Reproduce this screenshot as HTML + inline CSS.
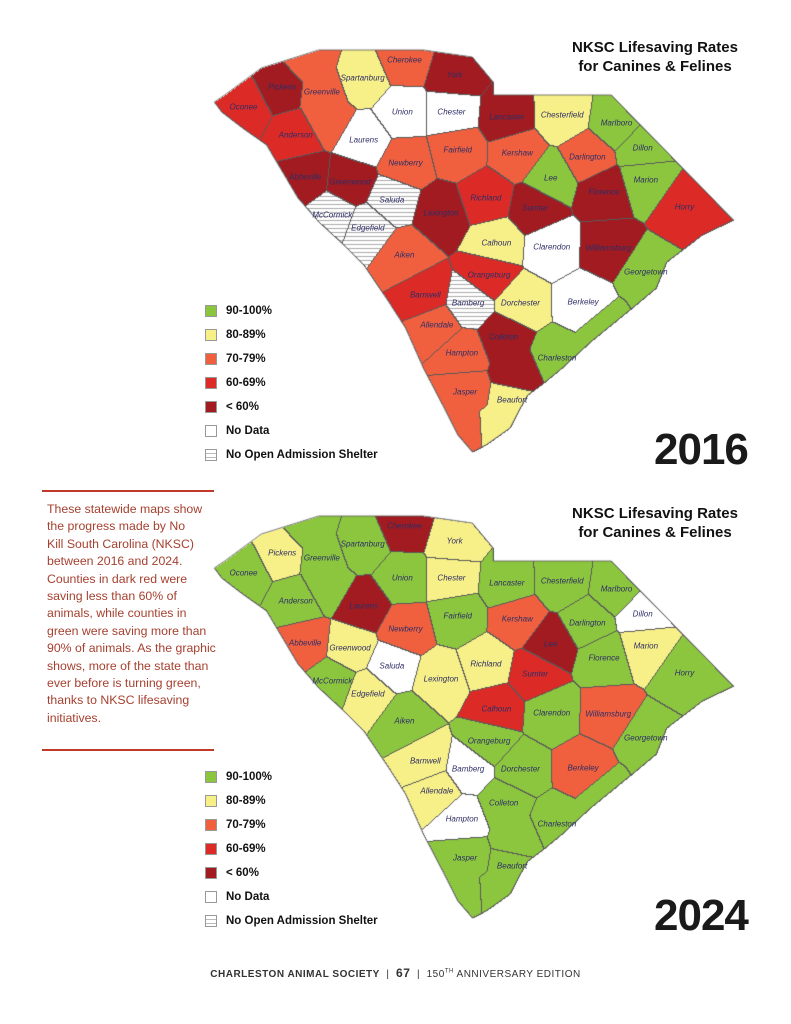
<!DOCTYPE html>
<html><head><meta charset="utf-8"><style>
body{margin:0;background:#fff;}
#wrap{position:relative;width:791px;height:1024px;overflow:hidden;font-family:"Liberation Sans",sans-serif;}
canvas{position:absolute;left:0;top:0;}
.t{position:absolute;font-weight:bold;font-size:15px;text-align:center;width:220px;left:545px;line-height:19px;color:#111;}
.yr{position:absolute;font-weight:bold;font-size:44px;left:654px;color:#1a1a1a;letter-spacing:-1px;}
.lab{position:absolute;font-size:8px;font-style:italic;color:#2e2e66;transform:translate(-50%,-50%);white-space:nowrap;}
.lg{position:absolute;left:205px;font-size:11.5px;font-weight:bold;color:#111;}
.lg span{display:inline-block;width:12px;height:12px;border:1px solid #999;vertical-align:middle;margin-right:9px;box-sizing:border-box;}
.para{position:absolute;left:47px;top:501px;width:190px;font-size:12.3px;line-height:17.4px;color:#a5402f;white-space:nowrap;}
.hr{position:absolute;left:42px;width:172px;height:2px;background:#c0392b;}
.foot{position:absolute;top:966px;width:791px;text-align:center;font-size:10px;color:#333;letter-spacing:0.5px;}
</style></head><body><div id="wrap">
<canvas id="c" width="791" height="1024"></canvas>
<div class="t" style="top:38px">NKSC Lifesaving Rates<br>for Canines &amp; Felines</div>
<div class="t" style="top:504px">NKSC Lifesaving Rates<br>for Canines &amp; Felines</div>
<div class="yr" style="top:425px">2016</div>
<div class="yr" style="top:891px">2024</div>
<div class="hr" style="top:490px"></div><div class="hr" style="top:749px"></div>
<div class="para">These statewide maps show<br>the progress made by No<br>Kill South Carolina (NKSC)<br>between 2016 and 2024.<br>Counties in dark red were<br>saving less than 60% of<br>animals, while counties in<br>green were saving more than<br>90% of animals. As the graphic<br>shows, more of the state than<br>ever before is turning green,<br>thanks to NKSC lifesaving<br>initiatives.</div>
<div class="foot"><b>CHARLESTON ANIMAL SOCIETY</b> &nbsp;|&nbsp; <b style="font-size:12px">67</b> &nbsp;|&nbsp; 150<sup style="font-size:6px">TH</sup> ANNIVERSARY EDITION</div>
<div id="legends"></div>
<div id="labels"></div>
<script>
var C={G:'#8cc63e',Y:'#f7f088',O:'#f0603f',R:'#dc2a27',D:'#a11b21',W:'#ffffff',H:'H'};
var S=[
['Oconee',243,107,'R','G'],['Pickens',280,87,'D','Y'],['Greenville',318,92,'O','G'],['',322,118,'O','G'],['',305,62,'O','G'],
['Spartanburg',357,78,'Y','G'],['Cherokee',397,60,'O','D'],['York',445,75,'D','Y'],['Union',395,112,'W','G'],
['Chester',442,112,'W','Y'],['Lancaster',495,117,'D','G'],['Chesterfield',548,115,'Y','G'],['Marlboro',600,123,'G','G'],
['Dillon',625,148,'G','W'],['Marion',628,180,'G','Y'],['Horry',665,207,'R','G'],['',700,222,'R','G'],['Laurens',358,140,'W','D'],
['Anderson',293,135,'R','G'],['Abbeville',302,177,'D','O'],['Greenwood',345,182,'D','Y'],['Newberry',398,163,'O','O'],
['Fairfield',448,150,'O','G'],['Kershaw',505,153,'O','O'],['Darlington',572,157,'O','G'],['Lee',537,178,'G','D'],
['Florence',588,192,'D','G'],['Sumter',522,208,'D','R'],['Richland',475,198,'R','Y'],['Lexington',432,213,'D','Y'],
['Saluda',385,200,'H','W'],['McCormick',328,215,'H','G'],['Edgefield',362,228,'H','Y'],['Aiken',397,255,'O','G'],
['Calhoun',485,243,'Y','R'],['Clarendon',538,247,'W','G'],['Williamsburg',592,248,'D','O'],['Georgetown',628,272,'G','G'],
['',642,295,'G','G'],['Orangeburg',478,275,'R','G'],['Barnwell',417,295,'R','Y'],['Bamberg',458,303,'H','W'],
['Dorchester',508,303,'Y','G'],['Berkeley',568,302,'W','O'],['Allendale',428,325,'O','Y'],['Colleton',492,337,'D','G'],
['',505,375,'D','G'],['Hampton',452,353,'O','W'],['Charleston',543,358,'G','G'],['',590,330,'G','G'],
['Jasper',455,392,'O','G'],['',455,430,'O','G'],['Beaufort',500,400,'Y','G'],['',485,428,'Y','G']];
var P=[[215,102],[225,95],[260,68],[315,50],[415,50],[462,57],[482,82],[482,95],[595,95],[712,220],[682,235],[648,262],[638,288],[615,308],[575,342],[548,368],[528,385],[515,395],[508,408],[498,428],[475,445],[462,452],[448,435],[432,402],[415,368],[398,328],[382,302],[358,265],[342,248],[315,222],[295,198],[282,175],[265,145],[242,128],[222,112]];
function tx(x){return 232+(x-232)*1.045;}
S.forEach(function(s){s[1]=tx(s[1]);});P.forEach(function(p){p[0]=tx(p[0]);});
var cv=document.getElementById('c'),ctx=cv.getContext('2d');
function draw(oy,k){
 var path=new Path2D();P.forEach(function(p,i){i?path.lineTo(p[0],p[1]+oy):path.moveTo(p[0],p[1]+oy);});path.closePath();
 var W=560,Hh=420,x0=205,y0=40+oy,img=ctx.getImageData(x0,y0,W,Hh),d=img.data,idx=new Int16Array(W*Hh);
 for(var y=0;y<Hh;y++)for(var x=0;x<W;x++){var gx=x0+x,gy=y0+y;
  if(!ctx.isPointInPath(path,gx,gy)){idx[y*W+x]=-1;continue;}
  var b=1e9,bi=0;for(var i=0;i<S.length;i++){var dx=S[i][1]-gx,dy=S[i][2]+oy-gy,q=dx*dx+dy*dy;if(q<b){b=q;bi=i;}}
  if(S[bi][0]===''){for(var j=bi-1;j>=0;j--)if(S[j][0]!==''){bi=j;break;}}
  idx[y*W+x]=bi;}
 for(var y=0;y<Hh;y++)for(var x=0;x<W;x++){var v=idx[y*W+x];if(v<0)continue;var o=(y*W+x)*4;
  var c=C[S[v][k]],r,g,bb;
  var edge=(x<W-1&&idx[y*W+x+1]!==v)||(y<Hh-1&&idx[(y+1)*W+x]!==v);
  if(edge){r=g=bb=90;}else if(c==='H'){if((y0+y)%4===0){r=g=bb=170;}else{r=g=bb=255;}}
  else{r=parseInt(c.substr(1,2),16);g=parseInt(c.substr(3,2),16);bb=parseInt(c.substr(5,2),16);}
  d[o]=r;d[o+1]=g;d[o+2]=bb;d[o+3]=255;}
 ctx.putImageData(img,x0,y0);
 ctx.strokeStyle='#555';ctx.lineWidth=0.8;ctx.stroke(path);
 var L=document.getElementById('labels');
 S.forEach(function(s){if(!s[0])return;var e=document.createElement('div');e.className='lab';e.style.left=s[1]+'px';e.style.top=(s[2]+oy)+'px';e.textContent=s[0];L.appendChild(e);});
}
draw(0,3);draw(466,4);
var items=[['90-100%','#8cc63e'],['80-89%','#f7f088'],['70-79%','#f0603f'],['60-69%','#dc2a27'],['< 60%','#a11b21'],['No Data','#fff'],['No Open Admission Shelter','repeating-linear-gradient(#fff 0 3px,#bbb 3px 4px)']];
var LG=document.getElementById('legends');
[305,771].forEach(function(t){items.forEach(function(it,i){var e=document.createElement('div');e.className='lg';e.style.top=(t+i*24)+'px';
 var s=document.createElement('span');s.style.background=it[1];e.appendChild(s);e.appendChild(document.createTextNode(it[0]));LG.appendChild(e);});});
</script>
</div></body></html>
